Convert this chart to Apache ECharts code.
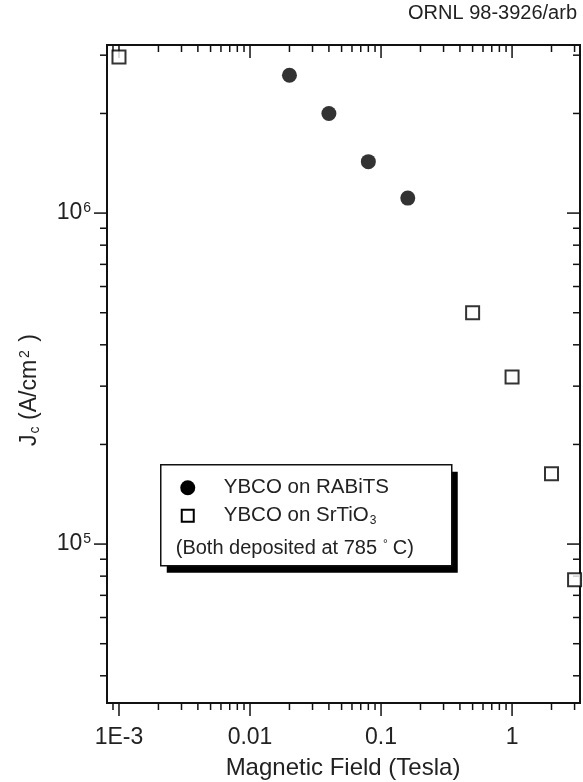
<!DOCTYPE html>
<html>
<head>
<meta charset="utf-8">
<script src="https://cdn.jsdelivr.net/npm/echarts@6/dist/echarts.min.js"></script>
<style>
  html, body { margin: 0; padding: 0; background: #fff; }
  #chart { width: 583px; height: 782px; }
</style>
</head>
<body>
<div id="chart"></div>
<script>
// magnetic field (Tesla) and Jc (A/cm^2)
var rabitsField = [0.02, 0.04, 0.08, 0.16];
var rabitsJc = [2.61e6, 2.0e6, 1.43e6, 1.11e6];
var srtioField = [0.001, 0.5, 1, 2, 3];
var srtioJc = [2.96e6, 5.0e5, 3.2e5, 1.63e5, 7.8e4];

var xTickValues = [0.001, 0.01, 0.1, 1];
var xTickLabels = ['1E-3', '0.01', '0.1', '1'];
var yTickValues = [1e5, 1e6];
var yTickLabels = ['10{sup|5}', '10{sup|6}'];

var xMin = 0.00081, xMax = 3.3;
var yMin = 3.31e4, yMax = 3.22e6;

var FONT = 'Liberation Sans, Arial, sans-serif';
var INK = '#111';
var TXT = '#222';

function pair(xs, ys) {
    var out = [];
    for (var i = 0; i < xs.length; i++) out.push([xs[i], ys[i]]);
    return out;
}

// log-axis tick marks: decades are major, 2..9 are minor
function logTicks(lo, hi) {
    var out = [];
    for (var e = Math.floor(Math.log10(lo)) - 1; e <= Math.ceil(Math.log10(hi)); e++) {
        for (var m = 1; m <= 9; m++) {
            var v = m * Math.pow(10, e);
            if (v >= lo && v <= hi) out.push([v, m === 1 ? 1 : 0]);
        }
    }
    return out;
}

function findLabel(values, labels, v) {
    for (var i = 0; i < values.length; i++) {
        if (Math.abs(Math.log10(v) - Math.log10(values[i])) < 1e-6) return labels[i];
    }
    return '';
}

var xTicks = logTicks(xMin, xMax).map(function (t) { return [t[0], yMin, t[1]]; });
var yTicks = logTicks(yMin, yMax).map(function (t) { return [xMin, t[0], t[1]]; });

var tickStyle = {stroke: INK, lineWidth: 1.5};

var chart = echarts.init(document.getElementById('chart'));
chart.setOption({
    backgroundColor: '#fff',
    animation: false,
    grid: {
        left: 107, right: 3, top: 45, bottom: 79,
        show: true, borderColor: INK, borderWidth: 2
    },
    xAxis: {
        type: 'log', logBase: 10, min: xMin, max: xMax,
        axisLine: {show: false},
        axisTick: {show: false},
        splitLine: {show: false},
        axisLabel: {
            margin: 23, color: TXT, fontSize: 23, fontFamily: FONT,
            formatter: function (v) { return findLabel(xTickValues, xTickLabels, v); }
        }
    },
    yAxis: {
        type: 'log', logBase: 10, min: yMin, max: yMax,
        axisLine: {show: false},
        axisTick: {show: false},
        splitLine: {show: false},
        axisLabel: {
            margin: 16, color: TXT, fontSize: 23, fontFamily: FONT,
            formatter: function (v) { return findLabel(yTickValues, yTickLabels, v); },
            rich: {
                sup: {fontSize: 14, fontFamily: FONT, color: TXT, verticalAlign: 'top', padding: [0, 0, 10, 1]}
            }
        }
    },
    series: [{
        type: 'custom',
        data: xTicks,
        encode: {x: 0, y: 1},
        silent: true,
        renderItem: function (params, api) {
            var cs = params.coordSys;
            var x = api.coord([api.value(0), yMin])[0];
            var len = api.value(2) ? 13 : 7;
            var bottom = cs.y + cs.height;
            return {type: 'group', children: [
                {type: 'line', shape: {x1: x, y1: bottom, x2: x, y2: bottom + len}, style: tickStyle},
                {type: 'line', shape: {x1: x, y1: cs.y, x2: x, y2: cs.y + len}, style: tickStyle}
            ]};
        }
    }, {
        type: 'custom',
        data: yTicks,
        encode: {x: 0, y: 1},
        silent: true,
        renderItem: function (params, api) {
            var cs = params.coordSys;
            var y = api.coord([xMin, api.value(1)])[1];
            var len = api.value(2) ? 13 : 7;
            var right = cs.x + cs.width;
            return {type: 'group', children: [
                {type: 'line', shape: {x1: cs.x - len, y1: y, x2: cs.x, y2: y}, style: tickStyle},
                {type: 'line', shape: {x1: right - len, y1: y, x2: right, y2: y}, style: tickStyle}
            ]};
        }
    }, {
        name: 'YBCO on RABiTS',
        type: 'scatter',
        data: pair(rabitsField, rabitsJc),
        symbol: 'circle',
        symbolSize: 15,
        itemStyle: {color: '#000'},
        z: 5
    }, {
        name: 'YBCO on SrTiO3',
        type: 'scatter',
        data: pair(srtioField, srtioJc),
        symbol: 'rect',
        symbolSize: 13,
        itemStyle: {color: '#fff', borderColor: '#000', borderWidth: 2},
        clip: false,
        z: 5
    }],
    graphic: [{
        type: 'text', right: 6, top: 3,
        style: {text: 'ORNL 98-3926/arb', fontSize: 20, fontFamily: FONT, fill: TXT}
    }, {
        type: 'text', x: 343, y: 768,
        style: {text: 'Magnetic Field (Tesla)', fontSize: 24, fontFamily: FONT, fill: TXT,
            align: 'center', verticalAlign: 'middle'}
    }, {
        type: 'text', x: 30, y: 390, rotation: Math.PI / 2,
        style: {
            text: 'J{sub|c} (A/cm{sup|2} )', fontSize: 23, fontFamily: FONT, fill: TXT,
            align: 'center', verticalAlign: 'middle',
            rich: {
                sub: {fontSize: 14, fontFamily: FONT, fill: TXT, verticalAlign: 'bottom', padding: [8, 0, 0, 1]},
                sup: {fontSize: 14, fontFamily: FONT, fill: TXT, verticalAlign: 'top', padding: [0, 2, 10, 2]}
            }
        }
    }, {
        type: 'group', left: 160, top: 464, z: 10,
        children: [{
            type: 'rect', shape: {x: 6, y: 7, width: 291, height: 101}, style: {fill: '#000'}
        }, {
            type: 'rect', shape: {x: 0, y: 0, width: 291, height: 101},
            style: {fill: '#fff', stroke: INK, lineWidth: 1.5}
        }, {
            type: 'circle', shape: {cx: 27, cy: 23, r: 7.5}, style: {fill: '#000'}
        }, {
            type: 'rect', shape: {x: 21, y: 45, width: 12, height: 12},
            style: {fill: '#fff', stroke: '#000', lineWidth: 2}
        }, {
            type: 'text', x: 63, y: 23,
            style: {text: 'YBCO on RABiTS', fontSize: 20.5, fontFamily: FONT, fill: TXT, verticalAlign: 'middle'}
        }, {
            type: 'text', x: 63, y: 51,
            style: {
                text: 'YBCO on SrTiO{sub|3}', fontSize: 20.5, fontFamily: FONT, fill: TXT, verticalAlign: 'middle',
                rich: {sub: {fontSize: 12, fontFamily: FONT, fill: TXT, verticalAlign: 'bottom', padding: [8, 0, 0, 1]}}
            }
        }, {
            type: 'text', x: 15, y: 84,
            style: {
                text: '(Both deposited at 785{sup|°}C)', fontSize: 20, fontFamily: FONT, fill: TXT, verticalAlign: 'middle',
                rich: {sup: {fontSize: 12, fontFamily: FONT, fill: TXT, verticalAlign: 'top', padding: [0, 5, 8, 6]}}
            }
        }]
    }]
});
</script>
</body>
</html>
